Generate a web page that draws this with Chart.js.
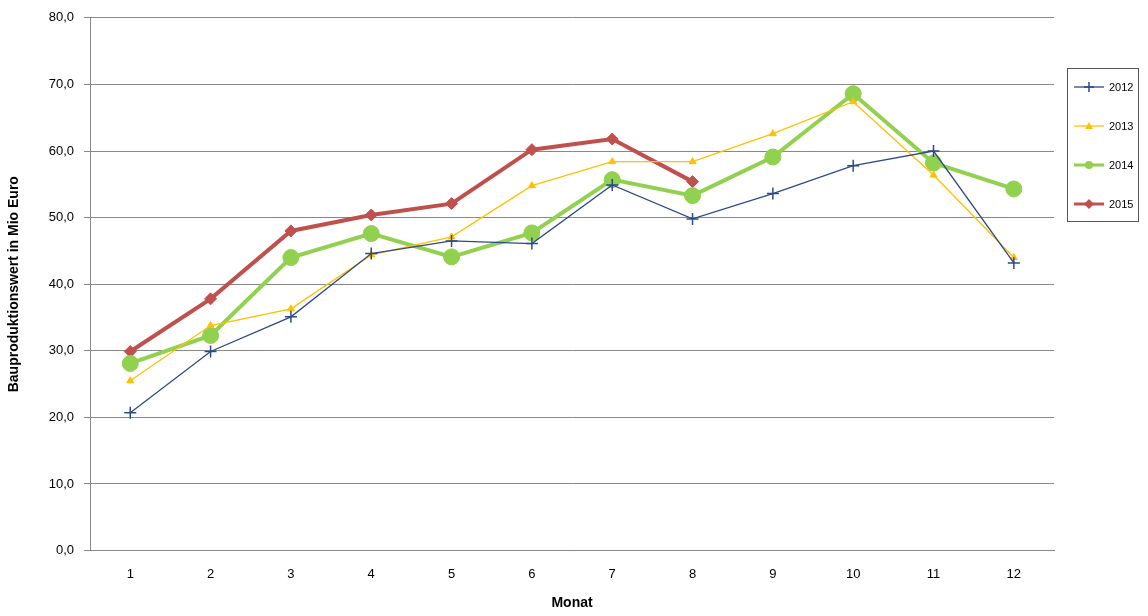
<!DOCTYPE html>
<html><head><meta charset="utf-8">
<script src="https://cdn.jsdelivr.net/npm/chart.js@4"></script>
<style>
body{margin:0;background:#fff;font-family:"Liberation Sans",Arial,sans-serif}
#wrap{position:absolute;left:0;top:0;width:1063px;height:616px}
#legend{position:absolute;left:1067px;top:68px;width:72px;height:154px;border:1px solid #555;box-sizing:border-box;font-size:11px}
.item{position:absolute;left:6px;display:flex;align-items:center}
.item canvas{margin-right:5px}
</style></head><body>
<div id="wrap"><canvas id="c" width="1063" height="616"></canvas></div>
<div id="legend"></div>
<script>
const months = ['1','2','3','4','5','6','7','8','9','10','11','12'];
const v2012 = [20.7,29.9,35.1,44.6,46.5,46.1,54.9,49.8,53.6,57.8,60.0,43.2];
const v2013 = [25.5,33.8,36.3,44.4,47.1,54.8,58.4,58.4,62.6,67.4,56.4,44.0];
const v2014 = [28.1,32.3,44.0,47.6,44.1,47.7,55.7,53.3,59.1,68.6,58.2,54.3];
const v2015 = [29.9,37.8,48.0,50.4,52.1,60.2,61.8,55.4];

const series = [
  { label:'2012', data:v2012, borderColor:'#2e4a86', backgroundColor:'#2e4a86', pointStyle:'cross', pointRadius:6, borderWidth:1.3 },
  { label:'2013', data:v2013, borderColor:'#ffc000', backgroundColor:'#ffc000', pointStyle:'triangle', pointRadius:4, borderWidth:1.3 },
  { label:'2014', data:v2014, borderColor:'#92d050', backgroundColor:'#92d050', pointStyle:'circle', pointRadius:8, borderWidth:4 },
  { label:'2015', data:v2015, borderColor:'#c0504d', backgroundColor:'#c0504d', pointStyle:'rectRot', pointRadius:6, borderWidth:4 },
];

new Chart(document.getElementById('c'), {
  type:'line',
  data:{ labels:months, datasets: series.map(s => ({ ...s, pointBorderWidth: s.pointStyle==='cross'?1.5:1, pointBorderColor:s.borderColor, tension:0 })) },
  options:{
    responsive:false, animation:false,
    layout:{ padding:{ top:17, right:3, left:2, bottom:4 } },
    plugins:{ legend:{ display:false }, tooltip:{ enabled:false } },
    scales:{
      x:{ offset:true, grid:{ display:false }, border:{ color:'#888' },
          ticks:{ color:'#000', font:{ size:13 }, autoSkip:false, maxRotation:0, padding:8 },
          title:{ display:true, text:'Monat', color:'#000', font:{ size:14, weight:'bold' }, padding:{ top:5, bottom:0 } } },
      y:{ min:0, max:80, ticks:{ stepSize:10, color:'#000', font:{ size:13 }, padding:10, callback:v => v.toFixed(1).replace('.',',') },
          grid:{ color:'#888', tickLength:6 }, border:{ color:'#888' },
          title:{ display:true, text:'Bauproduktionswert in Mio Euro', color:'#000', font:{ size:14, weight:'bold' }, padding:{ bottom:16 } } }
    }
  }
});
</script>
<script>
// legend
const lg = document.getElementById('legend');
series.forEach((s,i) => {
  const d = document.createElement('div'); d.className='item'; d.style.top=(12+i*39)+'px';
  const cv = document.createElement('canvas'); cv.width=30; cv.height=12;
  const g = cv.getContext('2d');
  g.strokeStyle=s.borderColor; g.fillStyle=s.borderColor; g.lineWidth=Math.min(s.borderWidth,3);
  g.beginPath(); g.moveTo(0,6); g.lineTo(30,6); g.stroke();
  g.lineWidth=1.5;
  if(s.pointStyle==='cross'){ g.beginPath(); g.moveTo(15,1); g.lineTo(15,11); g.moveTo(10,6); g.lineTo(20,6); g.stroke(); }
  if(s.pointStyle==='triangle'){ g.beginPath(); g.moveTo(15,2); g.lineTo(19,9); g.lineTo(11,9); g.fill(); }
  if(s.pointStyle==='circle'){ g.beginPath(); g.arc(15,6,4,0,7); g.fill(); }
  if(s.pointStyle==='rectRot'){ g.beginPath(); g.moveTo(15,1); g.lineTo(20,6); g.lineTo(15,11); g.lineTo(10,6); g.fill(); }
  d.appendChild(cv); d.appendChild(document.createTextNode(s.label)); lg.appendChild(d);
});
</script>
</body></html>
